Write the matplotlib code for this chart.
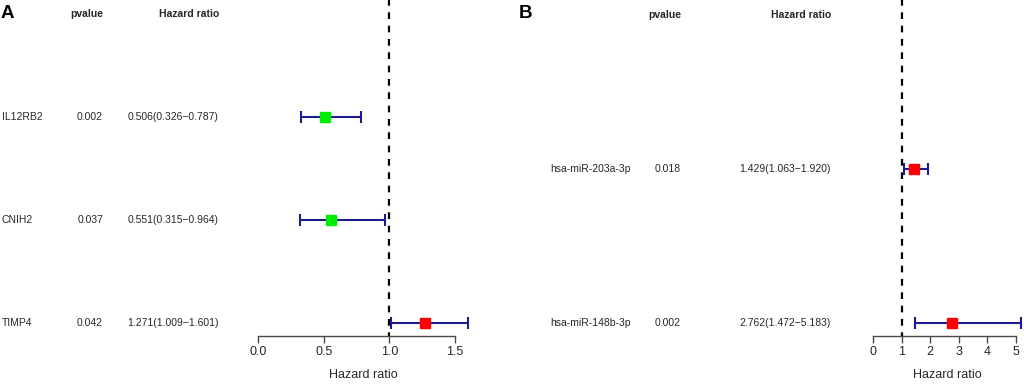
import matplotlib
matplotlib.use("Agg")
import matplotlib.pyplot as plt
import matplotlib.transforms as mtransforms

plt.rcParams['font.family'] = ['Liberation Sans', 'DejaVu Sans']

# panel A data
genes_a = ['IL12RB2', 'CNIH2', 'TIMP4']
pval_a = ['0.002', '0.037', '0.042']
hr_a = [0.506, 0.551, 1.271]
lo_a = [0.326, 0.315, 1.009]
hi_a = [0.787, 0.964, 1.601]
ticks_a = [0.0, 0.5, 1.0, 1.5]
ticklabels_a = ['0.0', '0.5', '1.0', '1.5']

# panel B data
genes_b = ['hsa-miR-203a-3p', 'hsa-miR-148b-3p']
pval_b = ['0.018', '0.002']
hr_b = [1.429, 2.762]
lo_b = [1.063, 1.472]
hi_b = [1.920, 5.183]
ticks_b = [0, 1, 2, 3, 4, 5]
ticklabels_b = ['0', '1', '2', '3', '4', '5']

W, H = 1024, 385
fig = plt.figure(figsize=(W / 100, H / 100), dpi=100)

LINE = '#1c1c92'
GREEN = '#00ee00'
RED = '#ff0000'
GREY = '#4a4a4a'
TXT = '#262626'


def fmt_hr(h, l, u):
    return '%.3f(%.3f\u2212%.3f)' % (h, l, u)


def forest(left_px, scale, row_gap, genes, pvals, hr, lo, hi, ticks, ticklabels,
           name_x, pval_x, hr_x, letter, letter_x):
    n = len(genes)
    axis_px = 336
    right = max(hi)
    width_px = right * scale
    # data y: bottom row = 1, top row = n, header = n + 1
    bottom = 1 - (axis_px - 323) / row_gap
    top = bottom + axis_px / row_gap
    ax = fig.add_axes([left_px / W, (H - axis_px) / H, width_px / W, axis_px / H])
    ax.set_xlim(0, right)
    ax.set_ylim(bottom, top)
    for s in ['top', 'right', 'left']:
        ax.spines[s].set_visible(False)
    ax.spines['bottom'].set_bounds(ticks[0], ticks[-1])
    ax.spines['bottom'].set_color(GREY)
    ax.spines['bottom'].set_linewidth(1.0)
    ax.set_yticks([])
    ax.set_xticks(ticks)
    ax.set_xticklabels(ticklabels)
    ax.tick_params(axis='x', direction='out', length=5, width=1.0, color=GREY,
                   labelsize=9, labelcolor=TXT, pad=2)
    ax.set_xlabel('Hazard ratio', fontsize=9, color=TXT, labelpad=8)
    ax.axvline(1, color='black', linestyle=(0, (3, 3)), linewidth=1.6, ymin=-0.01, ymax=1)

    ys = list(range(n, 0, -1))
    for i in range(n):
        y = ys[i]
        ax.errorbar(hr[i], y, xerr=[[hr[i] - lo[i]], [hi[i] - hr[i]]], fmt='none',
                    ecolor=LINE, elinewidth=1.5, capsize=4, capthick=1.5, clip_on=False)
        col = RED if hr[i] > 1 else GREEN
        ax.plot(hr[i], y, marker='s', markersize=7.5, color=col, linestyle='none',
                clip_on=False, zorder=5)

    trans = mtransforms.blended_transform_factory(fig.transFigure, ax.transData)
    for i in range(n):
        y = ys[i]
        ax.text(name_x / W, y, genes[i], transform=trans, ha='left', va='center',
                fontsize=7.5, color=TXT)
        ax.text(pval_x / W, y, pvals[i], transform=trans, ha='right', va='center',
                fontsize=7.5, color=TXT)
        ax.text(hr_x / W, y, fmt_hr(hr[i], lo[i], hi[i]), transform=trans, ha='right',
                va='center', fontsize=7.5, color=TXT)
    ax.text(pval_x / W, n + 1, 'pvalue', transform=trans, ha='right', va='center',
            fontsize=7.5, fontweight='bold', color=TXT)
    ax.text(hr_x / W, n + 1, 'Hazard ratio', transform=trans, ha='right', va='center',
            fontsize=7.5, fontweight='bold', color=TXT)
    fig.text(letter_x / W, 1 - 13 / H, letter, ha='left', va='center', fontsize=13.5,
             fontweight='bold')
    return ax


forest(258.3, 131.1, 103, genes_a, pval_a, hr_a, lo_a, hi_a, ticks_a, ticklabels_a,
       name_x=2, pval_x=103, hr_x=219, letter='A', letter_x=1)
forest(873.3, 28.5, 154, genes_b, pval_b, hr_b, lo_b, hi_b, ticks_b, ticklabels_b,
       name_x=550, pval_x=681, hr_x=831, letter='B', letter_x=519)

fig.savefig('out.png', dpi=100)
